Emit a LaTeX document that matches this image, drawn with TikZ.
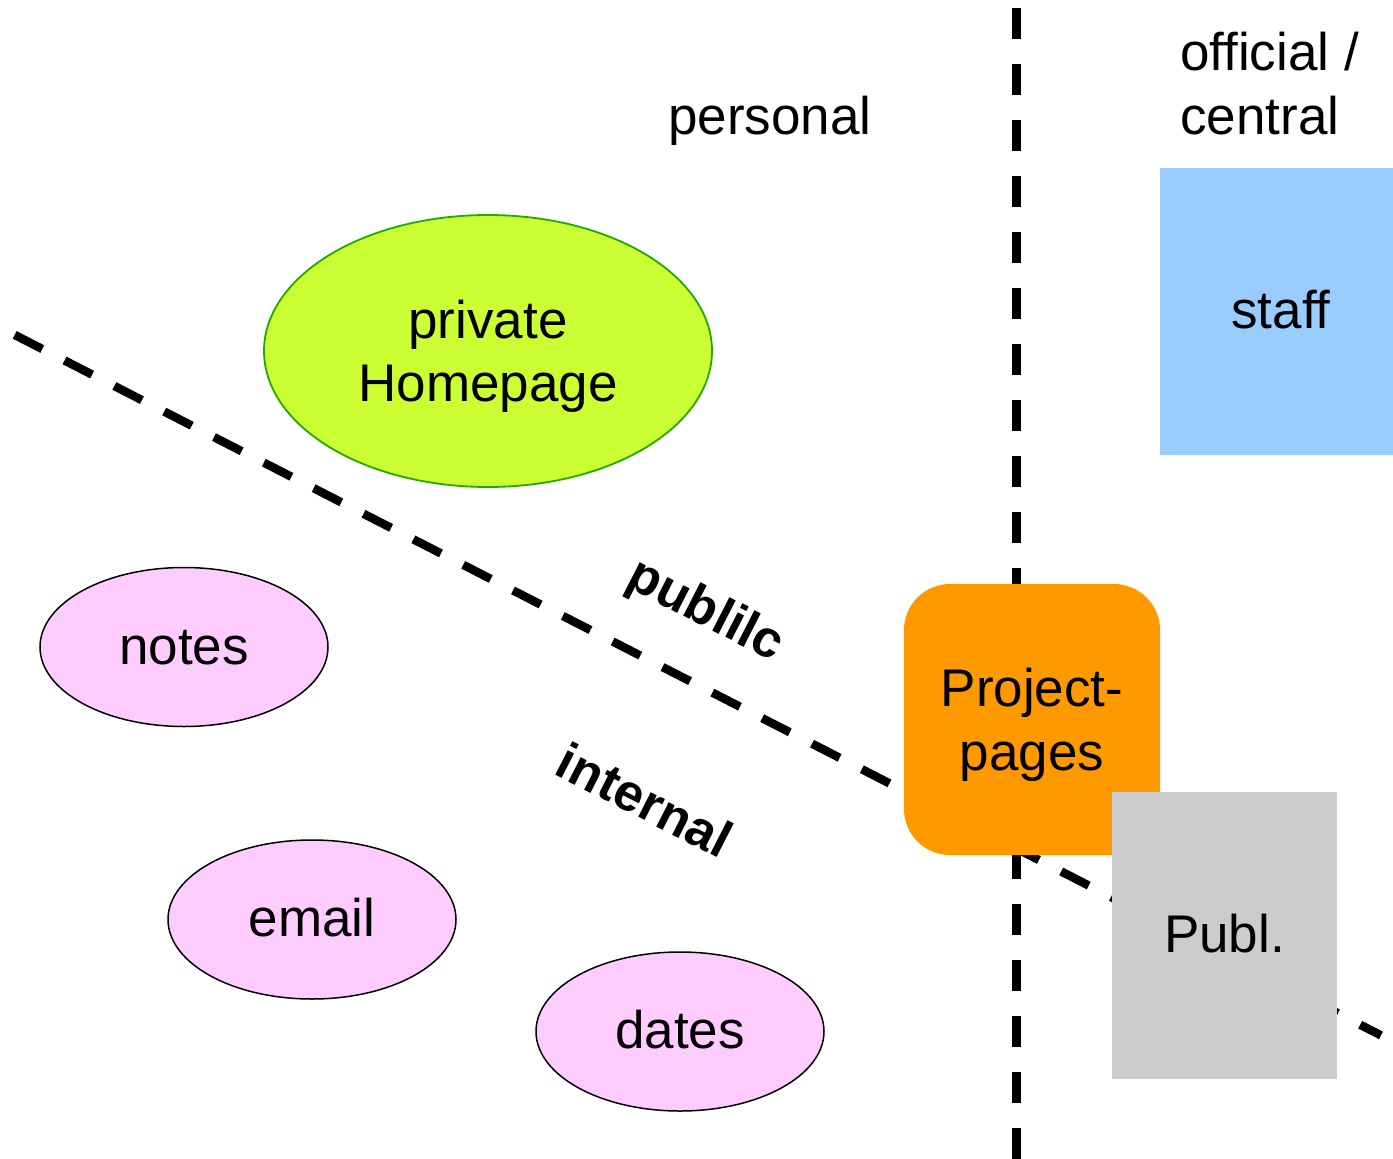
\documentclass[tikz,border=0pt]{standalone}
\usepackage{fontspec}
\setmainfont{Liberation Sans}
\usetikzlibrary{shapes.geometric}
\definecolor{hpgreen}{HTML}{CCFF33}
\definecolor{hpborder}{HTML}{22AA00}
\definecolor{pinkfill}{HTML}{FFCCFF}
\definecolor{bluefill}{HTML}{99CCFF}
\definecolor{orangefill}{HTML}{FF9900}
\definecolor{grayfill}{HTML}{CCCCCC}
\tikzset{
  bigtext/.style={font=\fontsize{53pt}{63.5pt}\selectfont},
  divider/.style={line width=8.5pt, dash pattern=on 31pt off 25pt},
  blob/.style={ellipse, draw=black, line width=1.5pt, fill=pinkfill,
    minimum width=288pt, minimum height=159pt, inner sep=0pt, bigtext,
    text height=34pt, text depth=0pt},
  zonelabel/.style={font=\fontsize{52pt}{60pt}\selectfont\bfseries, rotate=-27.1, inner sep=0pt},
  boxnode/.style={rectangle, inner sep=0pt, bigtext, align=center, text depth=0pt}
}
\begin{document}
\begin{tikzpicture}[x=1pt,y=-1pt]
\clip (0,0) rectangle (1393,1159);
\fill[white] (0,0) rectangle (1393,1159);

% dividing lines
\coordinate (vtop) at (1016.5,8);
\coordinate (vbot) at (1016.5,1159);
\coordinate (dstart) at (14.7,334.9);
\coordinate (dend) at (1381,1035.4);
\draw[divider] (vtop) -- (vbot);
\draw[divider] (dstart) -- (dend);

% headings
\node[bigtext, anchor=base, inner sep=0pt] (personal) at (770,134) {personal};
\node[bigtext, anchor=west, align=left, inner sep=0pt, text depth=0pt] (official) at (1180,83.5) {official /\\central};

% zone labels
\node[zonelabel] (public) at (705,612) {publilc};
\node[zonelabel] (internal) at (645,800) {internal};

% personal items
\node[ellipse, draw=hpborder, line width=1.8pt, fill=hpgreen, minimum width=448pt,
  minimum height=272pt, inner sep=0pt, bigtext, align=center, text depth=0pt]
  (home) at (488,351) {private\\Homepage};
\node[blob] (notes) at (184,647) {notes};
\node[blob] (email) at (312,919.5) {email};
\node[blob] (dates) at (680,1031.5) {dates};

% official items
\node[boxnode, fill=bluefill, minimum width=242pt, minimum height=287pt, text height=34pt] (staff) at (1281,311.5) {staff};
\node[boxnode, fill=orangefill, rounded corners=46pt, minimum width=256pt, minimum height=271pt] (project) at (1032,719.5) {Project-\\pages};
\node[boxnode, fill=grayfill, minimum width=225pt, minimum height=287pt, text height=34pt] (publ) at (1224.5,935.5) {Publ.};
\end{tikzpicture}
\end{document}
